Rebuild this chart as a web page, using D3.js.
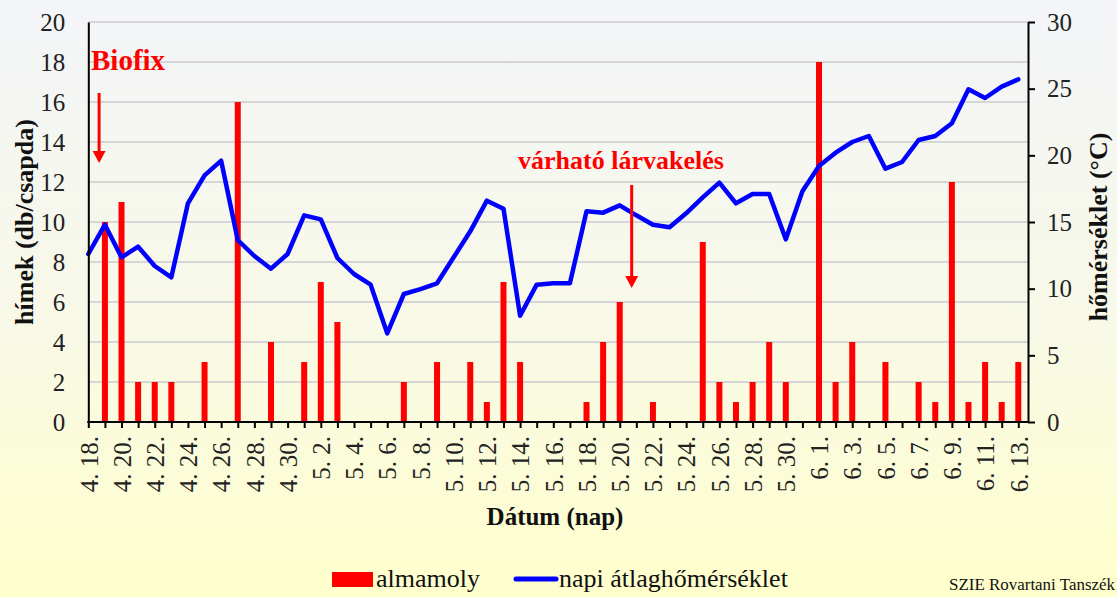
<!DOCTYPE html>
<html>
<head>
<meta charset="utf-8">
<script src="https://cdn.jsdelivr.net/npm/d3@7"></script>
<style>
  body { margin: 0; }
  svg { display: block; }
  svg text { font-family: "Liberation Serif", "Times New Roman", serif; }
</style>
</head>
<body>
<div id="chart"></div>
<script>
const categories = [
  "4. 18.", "4. 19.", "4. 20.", "4. 21.", "4. 22.", "4. 23.", "4. 24.", "4. 25.", "4. 26.", "4. 27.",
  "4. 28.", "4. 29.", "4. 30.",
  "5. 1.", "5. 2.", "5. 3.", "5. 4.", "5. 5.", "5. 6.", "5. 7.", "5. 8.", "5. 9.", "5. 10.",
  "5. 11.", "5. 12.", "5. 13.", "5. 14.", "5. 15.", "5. 16.", "5. 17.", "5. 18.", "5. 19.", "5. 20.",
  "5. 21.", "5. 22.", "5. 23.", "5. 24.", "5. 25.", "5. 26.", "5. 27.", "5. 28.", "5. 29.", "5. 30.", "5. 31.",
  "6. 1.", "6. 2.", "6. 3.", "6. 4.", "6. 5.", "6. 6.", "6. 7.", "6. 8.", "6. 9.", "6. 10.",
  "6. 11.", "6. 12.", "6. 13."
];

// almamoly hímek (db/csapda)
const moths = [
  0, 10, 11, 2, 2, 2, 0, 3, 0, 16, 0, 4, 0,
  3, 7, 5, 0, 0, 0, 2, 0, 3, 0, 3, 1, 7, 3, 0, 0, 0, 1, 4, 6, 0, 1, 0, 0, 9, 2, 1, 2, 4, 2, 0,
  18, 2, 4, 0, 3, 0, 2, 1, 12, 1, 3, 1, 3
];

// napi átlaghőmérséklet (°C)
const temps = [
  12.6, 14.8, 12.35, 13.15, 11.7, 10.85, 16.4, 18.5, 19.6, 13.65, 12.45, 11.5, 12.6,
  15.5, 15.2, 12.3, 11.1, 10.3, 6.65, 9.6, 9.97, 10.4, 12.35, 14.3, 16.6, 16.0, 7.97, 10.3, 10.4, 10.4,
  15.8, 15.7, 16.25, 15.5, 14.8, 14.6, 15.65, 16.85, 17.95, 16.4, 17.1, 17.1, 13.7, 17.3,
  19.2, 20.2, 21.0, 21.45, 19.0, 19.5, 21.15, 21.45, 22.4, 24.95, 24.3, 25.15, 25.7
];

const leftTicks = [0, 2, 4, 6, 8, 10, 12, 14, 16, 18, 20];
const rightTicks = [0, 5, 10, 15, 20, 25, 30];

// annotations: label, category position, arrow from/to in left-axis units
const notes = [
  { text: "Biofix", pos: 0.65, from: 16.45, to: 12.95 },
  { text: "várható lárvakelés", pos: 32.72, from: 11.85, to: 6.7 }
];

const W = 1117, H = 597;
const plot = { left: 88.3, right: 1028, top: 22, bottom: 422 };

const svg = d3.select("#chart").append("svg")
  .attr("width", W)
  .attr("height", H);

const grad = svg.append("defs").append("linearGradient")
  .attr("id", "bg")
  .attr("x1", 0).attr("y1", 0).attr("x2", 0).attr("y2", 1);
grad.append("stop").attr("offset", "0%").attr("stop-color", "#f3f5f9");
grad.append("stop").attr("offset", "55%").attr("stop-color", "#f8f9e6");
grad.append("stop").attr("offset", "100%").attr("stop-color", "#ffffcc");

svg.append("rect")
  .attr("width", W).attr("height", H)
  .attr("fill", "url(#bg)");

const x = d3.scalePoint()
  .domain(categories)
  .range([plot.left, 1018.3]);

const yL = d3.scaleLinear().domain([0, 20]).range([plot.bottom, plot.top]);
const yR = d3.scaleLinear().domain([0, 30]).range([plot.bottom, plot.top]);

// grid
svg.append("g")
  .selectAll("line")
  .data(leftTicks.filter(d => d > 0))
  .join("line")
    .attr("x1", plot.left).attr("x2", plot.right)
    .attr("y1", d => yL(d)).attr("y2", d => yL(d))
    .attr("stroke", "#d6d6d6")
    .attr("stroke-width", 2);

// bars
const barW = 6;
svg.append("g")
  .selectAll("rect")
  .data(moths.map((v, i) => ({ cat: categories[i], v })).filter(d => d.v > 0))
  .join("rect")
    .attr("x", d => x(d.cat) - barW / 2)
    .attr("y", d => yL(d.v))
    .attr("width", barW)
    .attr("height", d => yL(0) - yL(d.v))
    .attr("fill", "#ff0000");

// temperature line
const line = d3.line()
  .x((d, i) => x(categories[i]))
  .y(d => yR(d));

svg.append("path")
  .datum(temps)
  .attr("d", line)
  .attr("fill", "none")
  .attr("stroke", "#0000ff")
  .attr("stroke-width", 4.5)
  .attr("stroke-linejoin", "round")
  .attr("stroke-linecap", "round");

const styleTicks = sel => sel.selectAll("text")
  .style("font-family", "'Liberation Serif', 'Times New Roman', serif")
  .style("font-size", "25px")
  .attr("fill", "#222");

// left axis
const leftAxis = svg.append("g")
  .attr("transform", `translate(${plot.left},0)`)
  .call(d3.axisLeft(yL).tickValues(leftTicks).tickSize(0).tickPadding(23));
leftAxis.select(".domain").attr("stroke", "#000").attr("stroke-width", 2);
styleTicks(leftAxis);

// right axis
const rightAxis = svg.append("g")
  .attr("transform", `translate(${plot.right},0)`)
  .call(d3.axisRight(yR).tickValues(rightTicks).tickSize(7).tickSizeOuter(0).tickPadding(12));
rightAxis.select(".domain").attr("stroke", "#000").attr("stroke-width", 2);
rightAxis.selectAll(".tick line").attr("stroke", "#000").attr("stroke-width", 2);
styleTicks(rightAxis);

// bottom axis
const bottomAxis = svg.append("g")
  .attr("transform", `translate(0,${plot.bottom})`)
  .call(d3.axisBottom(x)
    .tickSize(6)
    .tickFormat((d, i) => i % 2 === 0 ? d : ""));
bottomAxis.select(".domain").remove();
bottomAxis.selectAll(".tick line").attr("stroke", "#000").attr("stroke-width", 2);
styleTicks(bottomAxis);
bottomAxis.selectAll("text")
  .attr("transform", "rotate(-90)")
  .attr("text-anchor", "end")
  .attr("x", -14)
  .attr("y", 0)
  .attr("dy", "0.35em");
bottomAxis.append("line")
  .attr("x1", plot.left - 1).attr("x2", plot.right + 1)
  .attr("y1", 0).attr("y2", 0)
  .attr("stroke", "#000")
  .attr("stroke-width", 2);

// axis titles
svg.append("text")
  .attr("transform", `translate(33,${(plot.top + plot.bottom) / 2}) rotate(-90)`)
  .attr("text-anchor", "middle")
  .attr("font-size", 26)
  .attr("font-weight", "bold")
  .attr("fill", "#111")
  .text("hímek (db/csapda)");

svg.append("text")
  .attr("transform", `translate(1107,${(plot.top + plot.bottom) / 2 + 5}) rotate(-90)`)
  .attr("text-anchor", "middle")
  .attr("font-size", 26)
  .attr("font-weight", "bold")
  .attr("fill", "#111")
  .text("hőmérséklet (°C)");

svg.append("text")
  .attr("x", 555).attr("y", 525)
  .attr("text-anchor", "middle")
  .attr("font-size", 25)
  .attr("font-weight", "bold")
  .attr("fill", "#111")
  .text("Dátum (nap)");

// annotations
const ann = svg.append("g").attr("fill", "#ff0000");
const posX = p => plot.left + p * x.step();

ann.append("text")
  .attr("x", 91).attr("y", 70)
  .attr("font-size", 29)
  .attr("font-weight", "bold")
  .text(notes[0].text);

ann.append("text")
  .attr("x", 518).attr("y", 169)
  .attr("font-size", 26)
  .attr("font-weight", "bold")
  .text(notes[1].text);

notes.forEach(n => {
  const ax = posX(n.pos);
  const y1 = yL(n.from), y2 = yL(n.to);
  ann.append("line")
    .attr("x1", ax).attr("x2", ax)
    .attr("y1", y1).attr("y2", y2 - 10)
    .attr("stroke", "#ff0000")
    .attr("stroke-width", 3);
  ann.append("path")
    .attr("d", `M${ax - 6.5},${y2 - 12}L${ax + 6.5},${y2 - 12}L${ax},${y2}Z`);
});

// legend
const legend = svg.append("g").attr("font-size", 26).attr("fill", "#111");
legend.append("rect")
  .attr("x", 332).attr("y", 572)
  .attr("width", 41).attr("height", 15)
  .attr("fill", "#ff0000");
legend.append("text")
  .attr("x", 376).attr("y", 587)
  .text("almamoly");
legend.append("line")
  .attr("x1", 516).attr("x2", 556)
  .attr("y1", 579).attr("y2", 579)
  .attr("stroke", "#0000ff")
  .attr("stroke-width", 5)
  .attr("stroke-linecap", "round");
legend.append("text")
  .attr("x", 559).attr("y", 587)
  .text("napi átlaghőmérséklet");

svg.append("text")
  .attr("x", 949).attr("y", 590)
  .attr("font-size", 17)
  .attr("fill", "#111")
  .attr("textLength", 166)
  .attr("lengthAdjust", "spacingAndGlyphs")
  .text("SZIE Rovartani Tanszék");
</script>
</body>
</html>
